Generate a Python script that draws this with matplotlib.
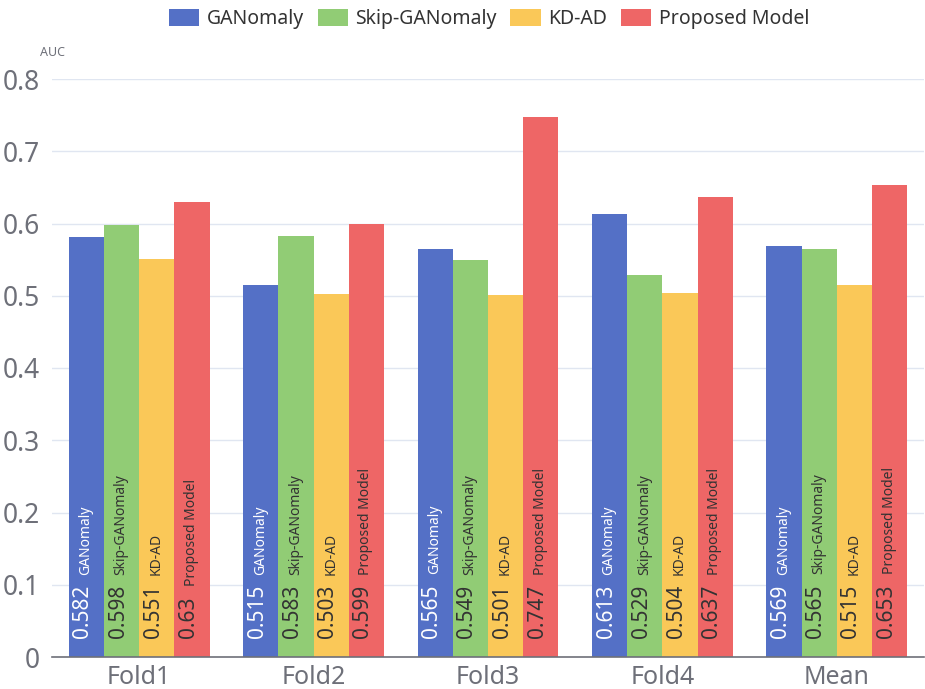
import matplotlib.pyplot as plt
from matplotlib.patches import FancyBboxPatch
from matplotlib.legend_handler import HandlerPatch
import numpy as np

plt.rcParams['font.family'] = ['Noto Sans', 'DejaVu Sans']

folds = ['Fold1', 'Fold2', 'Fold3', 'Fold4', 'Mean']
models = ['GANomaly', 'Skip-GANomaly', 'KD-AD', 'Proposed Model']
ganomaly = [0.582, 0.515, 0.565, 0.613, 0.569]
skip_ganomaly = [0.598, 0.583, 0.549, 0.529, 0.565]
kd_ad = [0.551, 0.503, 0.501, 0.504, 0.515]
proposed = [0.63, 0.599, 0.747, 0.637, 0.653]
yticks = [0, 0.1, 0.2, 0.3, 0.4, 0.5, 0.6, 0.7, 0.8]

colors = ['#5470c6', '#91cc75', '#fac858', '#ee6666']
text_cols = ['white', '#333333', '#333333', '#333333']
grey = '#6E7079'


class RoundHandler(HandlerPatch):
    def create_artists(self, legend, orig_handle, xdescent, ydescent,
                       width, height, fontsize, trans):
        p = FancyBboxPatch((-xdescent + 1, -ydescent + 1), width - 2, height - 2,
                           boxstyle='round,pad=0,rounding_size=4',
                           facecolor=orig_handle.get_facecolor(),
                           edgecolor='none', transform=trans)
        return [p]


fig = plt.figure(figsize=(9.25, 6.89), dpi=100)
ax = fig.add_axes([52 / 925, 1 - 657 / 689, 872 / 925, (657 - 79) / 689])

x = np.arange(len(folds))
w = 0.202
series = [ganomaly, skip_ganomaly, kd_ad, proposed]
value_texts = []
for i, vals in enumerate(series):
    pos = x + (i - 1.5) * w
    ax.bar(pos, vals, w, color=colors[i], label=models[i], zorder=2)
    for xi, v in zip(pos, vals):
        t = ax.annotate(f'{v:g}', (xi, 0), xytext=(7, 19), textcoords='offset pixels',
                        rotation=90, ha='right', va='bottom', fontsize=15,
                        color=text_cols[i], zorder=3)
        value_texts.append((t, xi, i))

# series name goes right after the value text
fig.canvas.draw()
renderer = fig.canvas.get_renderer()
for t, xi, i in value_texts:
    h = t.get_window_extent(renderer).height
    ax.annotate(models[i], (xi, 0), xytext=(7, 19 + h + 10), textcoords='offset pixels',
                rotation=90, ha='right', va='bottom', fontsize=10,
                color=text_cols[i], zorder=3)

ax.set_xlim(-0.5, len(folds) - 0.5)
ax.set_ylim(0, 0.8)
ax.set_yticks(yticks)
ax.set_yticklabels([f'{v:g}' for v in yticks])
ax.set_xticks(x)
ax.set_xticklabels(folds)
ax.tick_params(axis='y', length=0, pad=9, labelsize=19, labelcolor=grey)
ax.tick_params(axis='x', length=0, pad=6, labelsize=18, labelcolor=grey)
ax.grid(axis='y', color='#E0E6F1', linewidth=1, zorder=0)
ax.set_axisbelow(True)
for s in ['left', 'right', 'top']:
    ax.spines[s].set_visible(False)
ax.spines['bottom'].set_color(grey)
ax.spines['bottom'].set_linewidth(1.2)
ax.spines['bottom'].set_zorder(4)

fig.text(52 / 925, 1 - 52 / 689, 'AUC', ha='center', va='center', fontsize=9, color=grey)

handles, labels = ax.get_legend_handles_labels()
fig.legend(handles, labels, loc='center', bbox_to_anchor=(489 / 925, 1 - 19 / 689), ncol=4,
           frameon=False, fontsize=14, handlelength=1.55, handleheight=0.95,
           handletextpad=0.4, columnspacing=0.7, labelcolor='#333333',
           handler_map={plt.Rectangle: RoundHandler()})

fig.savefig('out.png', dpi=100)
